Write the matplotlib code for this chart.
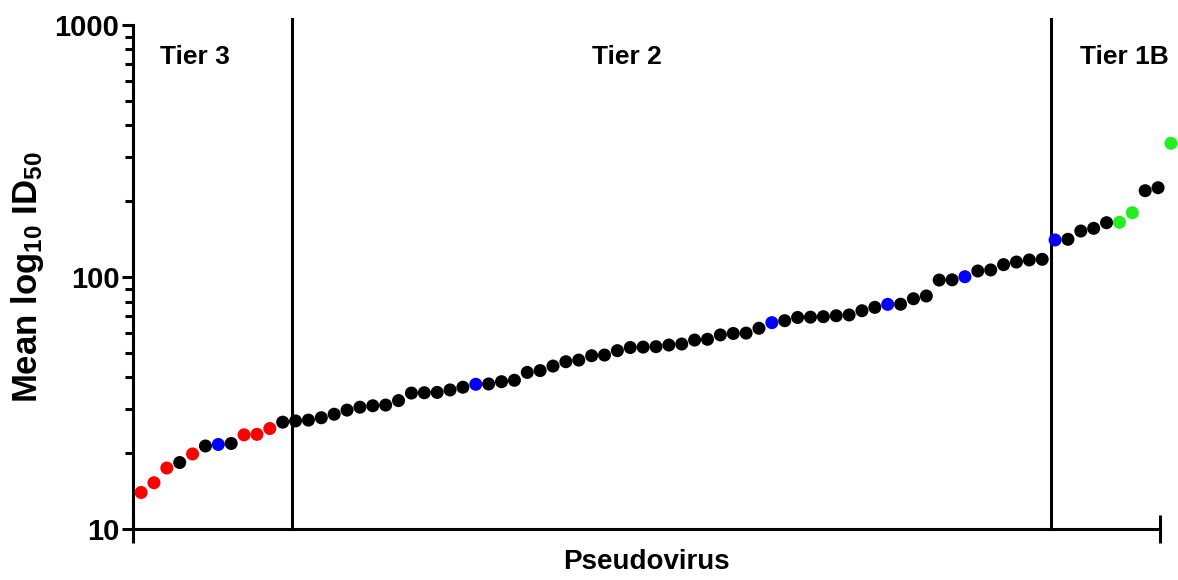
import numpy as np
import matplotlib.pyplot as plt

plt.rcParams['font.family'] = ['Liberation Sans', 'DejaVu Sans']
plt.rcParams['mathtext.fontset'] = 'custom'
plt.rcParams['mathtext.bf'] = 'Liberation Sans:bold'
plt.rcParams['mathtext.rm'] = 'Liberation Sans:bold'
plt.rcParams['mathtext.default'] = 'bf'

# mean ID50 per pseudovirus, sorted ascending
id50 = [14.0, 15.3, 17.5, 18.4, 19.9, 21.4, 21.7, 21.9, 23.7, 23.8,
        25.1, 26.6, 26.9, 27.1, 27.7, 28.6, 29.7, 30.5, 30.9, 31.1,
        32.4, 34.7, 34.8, 34.9, 35.7, 36.6, 37.6, 37.7, 38.5, 39.0,
        41.9, 42.6, 44.4, 46.2, 46.9, 48.8, 49.1, 51.1, 52.6, 52.8,
        53.0, 53.8, 54.3, 56.3, 56.7, 59.0, 59.8, 60.0, 62.7, 66.0,
        67.2, 69.2, 69.4, 69.7, 70.3, 70.8, 73.6, 75.9, 78.0, 78.1,
        82.1, 84.2, 97.4, 97.6, 100.4, 105.8, 106.8, 112.1, 114.8, 117.0,
        117.7, 140.4, 141.3, 152.4, 156.2, 164.4, 165.0, 180.1, 220.2, 226.3,
        339.6]

# marker colour group per pseudovirus
groups = ['r', 'r', 'r', 'k', 'r', 'k', 'b', 'k', 'r', 'r',
          'r', 'k', 'k', 'k', 'k', 'k', 'k', 'k', 'k', 'k',
          'k', 'k', 'k', 'k', 'k', 'k', 'b', 'k', 'k', 'k',
          'k', 'k', 'k', 'k', 'k', 'k', 'k', 'k', 'k', 'k',
          'k', 'k', 'k', 'k', 'k', 'k', 'k', 'k', 'k', 'b',
          'k', 'k', 'k', 'k', 'k', 'k', 'k', 'k', 'b', 'k',
          'k', 'k', 'k', 'k', 'b', 'k', 'k', 'k', 'k', 'k',
          'k', 'b', 'k', 'k', 'k', 'k', 'g', 'g', 'k', 'k',
          'g']

tier_names = ['Tier 3', 'Tier 2', 'Tier 1B']
tier_sizes = [12, 59, 10]

palette = {'k': '#000000', 'r': '#ff0000', 'b': '#0000ff', 'g': '#22ee22'}

x = np.arange(len(id50))
cols = [palette[g] for g in groups]

fig = plt.figure(figsize=(11.78, 5.8), dpi=100)
ax = fig.add_axes([0.1132, 0.0874, 0.8715, 0.8695])

ax.scatter(x, id50, s=88, c=cols, edgecolors='none', zorder=3, clip_on=False)

ax.set_yscale('log')
ax.set_ylim(10, 1000)
x0, x1 = -0.6, 79.15
ax.set_xlim(x0, x1)

# tier boundaries
bounds = np.cumsum(tier_sizes)[:-1] - 1 + 0.7
for b in bounds:
    ax.axvline(b, ymin=0, ymax=1.012, color='k', lw=2.2, clip_on=False)

# tier labels
trans = ax.get_xaxis_transform()
ax.text(1.5, 0.937, tier_names[0], transform=trans, fontsize=19,
        fontweight='bold', ha='left', va='center')
ax.text(37.7, 0.937, tier_names[1], transform=trans, fontsize=19,
        fontweight='bold', ha='center', va='center')
ax.text(76.4, 0.937, tier_names[2], transform=trans, fontsize=19,
        fontweight='bold', ha='center', va='center')

for s in ['top', 'right']:
    ax.spines[s].set_visible(False)
for s in ['left', 'bottom']:
    ax.spines[s].set_linewidth(2.2)

ax.set_xticks([x0, x1])
ax.set_xticklabels([])
ax.tick_params(axis='x', direction='inout', length=20, width=2.2)
ax.tick_params(axis='y', which='major', direction='out', length=8, width=2.2,
               labelsize=21, pad=2)
ax.tick_params(axis='y', which='minor', direction='out', length=6, width=2.2)
ax.set_yticks([10, 100, 1000])
ax.set_yticklabels(['10', '100', '1000'], fontweight='bold')

ax.set_xlabel('Pseudovirus', fontsize=20, fontweight='bold', labelpad=1)
ax.set_ylabel('Mean log$_{10}$ ID$_{50}$', fontsize=25, fontweight='bold',
              labelpad=6)

fig.savefig('out.png', dpi=100)
